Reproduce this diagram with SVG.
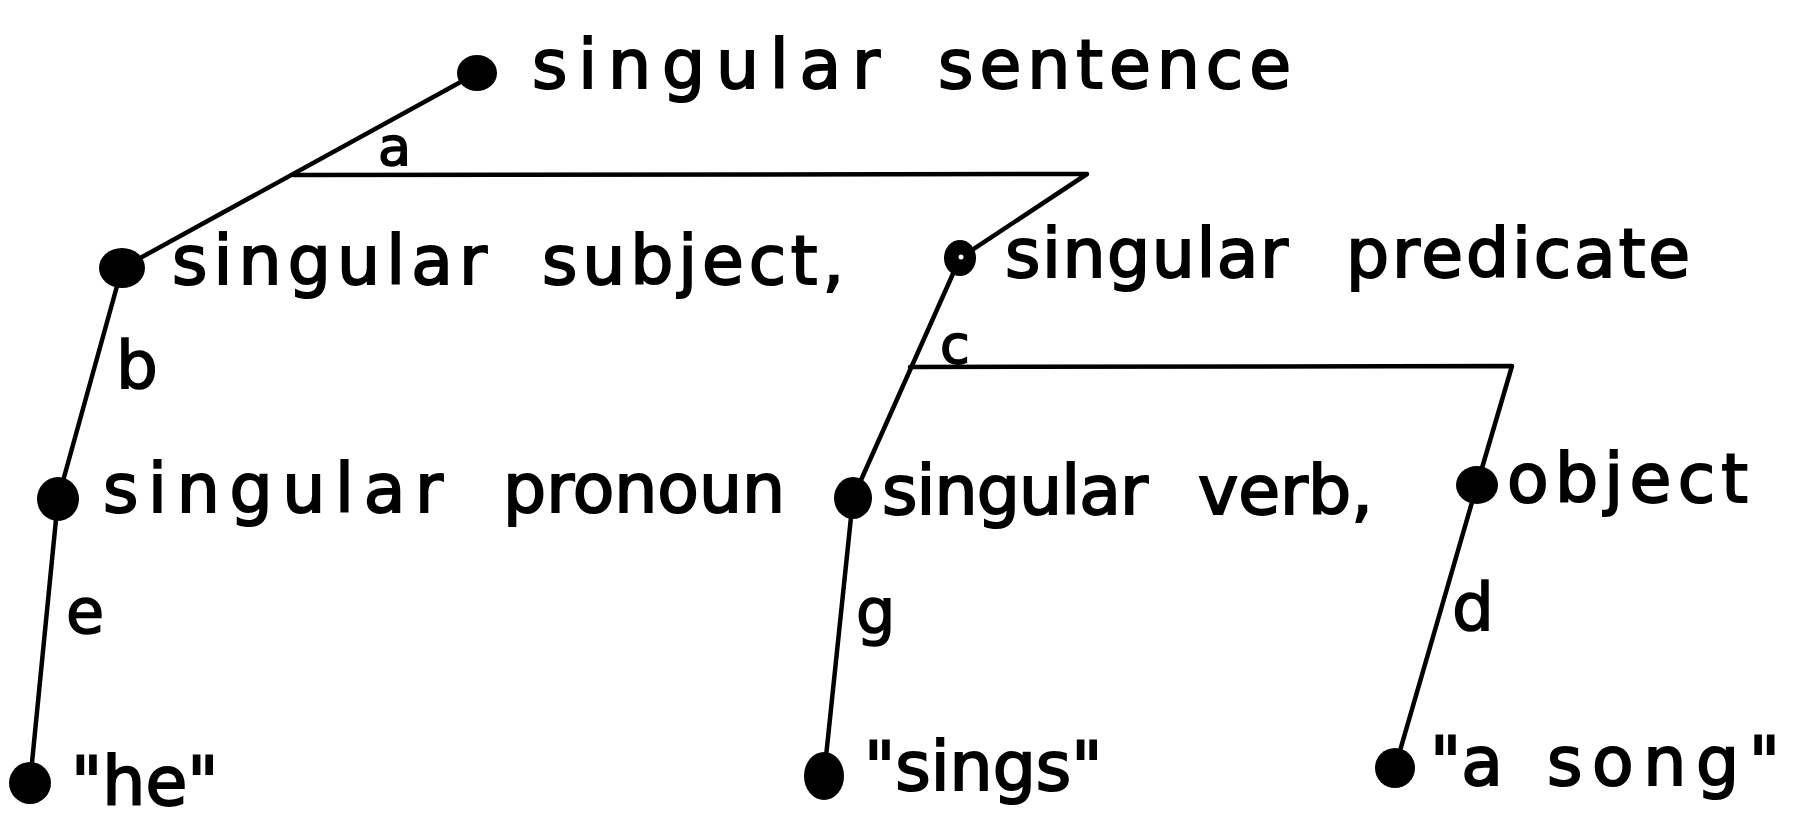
<svg xmlns="http://www.w3.org/2000/svg" width="1793" height="837" viewBox="0 0 1793 837">
<style>
.t{font-family:"DejaVu Sans","Liberation Sans",sans-serif;font-size:68px;fill:#000;stroke:#000;stroke-width:2px}
.lb{font-family:"DejaVu Sans","Liberation Sans",sans-serif;fill:#000;stroke:#000;stroke-width:1.6px}
.dot{fill:#000}
.ln{stroke:#000;stroke-width:4.5;fill:none;stroke-linecap:round;stroke-linejoin:round}
</style>
<rect width="1793" height="837" fill="#fff"/>
<g id="connectors">
<line class="ln" x1="477" y1="73" x2="122" y2="268"/>
<polyline class="ln" points="293,175 1087,174 960,258"/>
<line class="ln" x1="122" y1="268" x2="58" y2="499"/>
<line class="ln" x1="58" y1="499" x2="30" y2="783"/>
<line class="ln" x1="960" y1="258" x2="853" y2="498"/>
<polyline class="ln" points="910,367 1512,366 1477,485"/>
<line class="ln" x1="853" y1="498" x2="824" y2="776"/>
<line class="ln" x1="1477" y1="485" x2="1395" y2="768"/>
<text class="lb" x="378" y="165" font-size="54">a</text>
<text class="lb" x="116" y="388" font-size="66">b</text>
<text class="lb" x="940" y="363" font-size="54">c</text>
<text class="lb" x="1452" y="630" font-size="66">d</text>
<text class="lb" x="66" y="633" font-size="62">e</text>
<text class="lb" x="856" y="633" font-size="62">g</text>
</g>
<g id="node-sentence">
<ellipse class="dot" cx="477" cy="73" rx="20" ry="18"/>
<text class="t" y="88"><tspan x="532" textLength="348">singular</tspan> <tspan x="938" textLength="353">sentence</tspan></text>
</g>
<g id="node-subject">
<ellipse class="dot" cx="122" cy="268" rx="23" ry="20"/>
<text class="t" y="284"><tspan x="172" textLength="315">singular</tspan> <tspan x="542" textLength="302">subject,</tspan></text>
</g>
<g id="node-predicate">
<ellipse class="dot" cx="960" cy="258" rx="16" ry="18"/>
<circle cx="961" cy="257" r="2.5" fill="#fff"/>
<text class="t" y="277"><tspan x="1005" textLength="283">singular</tspan> <tspan x="1346" textLength="344">predicate</tspan></text>
</g>
<g id="node-pronoun">
<ellipse class="dot" cx="58" cy="499" rx="21" ry="22"/>
<text class="t" y="512"><tspan x="103" textLength="340">singular</tspan> <tspan x="503">pronoun</tspan></text>
</g>
<g id="node-verb">
<ellipse class="dot" cx="853" cy="498" rx="19" ry="21"/>
<text class="t" y="514"><tspan x="882" textLength="266">singular</tspan> <tspan x="1198">verb,</tspan></text>
</g>
<g id="node-object">
<ellipse class="dot" cx="1477" cy="485" rx="21" ry="19"/>
<text class="t" x="1507" y="502" textLength="241">object</text>
</g>
<g id="node-he">
<ellipse class="dot" cx="30" cy="783" rx="21" ry="21"/>
<text class="t" x="71" y="805">"he"</text>
</g>
<g id="node-sings">
<ellipse class="dot" cx="824" cy="776" rx="20" ry="24"/>
<text class="t" x="864" y="790">"sings"</text>
</g>
<g id="node-song">
<ellipse class="dot" cx="1395" cy="768" rx="20" ry="20"/>
<text class="t" y="785"><tspan x="1430">"a</tspan> <tspan x="1547" textLength="233">song"</tspan></text>
</g>
</svg>
